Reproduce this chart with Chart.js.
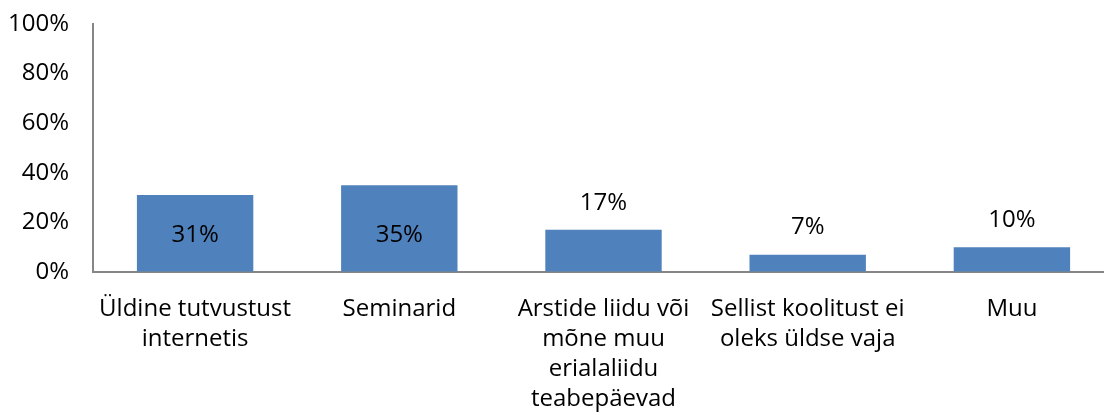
<!DOCTYPE html>
<html>
<head>
<meta charset="utf-8">
<script src="https://cdn.jsdelivr.net/npm/chart.js@4.4.0/dist/chart.umd.min.js"></script>
<style>
  html, body { margin: 0; padding: 0; background: #fff; }
  #wrap { width: 1104px; height: 415px; overflow: hidden; }
  #box { width: 1114px; height: 415px; }
</style>
</head>
<body>
<div id="wrap"><div id="box"><canvas id="koolitus"></canvas></div></div>
<script>
// data
const categories = [
    ['Üldine tutvustust', 'internetis'],
    ['Seminarid'],
    ['Arstide liidu või', 'mõne muu', 'erialaliidu', 'teabepäevad'],
    ['Sellist koolitust ei', 'oleks üldse vaja'],
    ['Muu']
];
const shares = [31, 35, 17, 7, 10];
const yTicks = [0, 20, 40, 60, 80, 100];

const fontFamily = "'Open Sans', sans-serif";
const fontSize = 24;
const axisGrey = '#868686';

// value labels: above short bars, inside the tall ones
const valueLabels = {
    id: 'valueLabels',
    afterDatasetsDraw(chart) {
        const ctx = chart.ctx;
        const yScale = chart.scales.y;
        const meta = chart.getDatasetMeta(0);
        ctx.save();
        ctx.font = fontSize + 'px ' + fontFamily;
        ctx.fillStyle = '#000';
        ctx.textAlign = 'center';
        ctx.textBaseline = 'middle';
        meta.data.forEach(function(bar, i) {
            const v = shares[i];
            let y;
            if (v > 25) {
                y = yScale.getPixelForValue(15);
            } else {
                y = bar.y - 27;
            }
            ctx.fillText(v + '%', bar.x, y);
        });
        ctx.restore();
    }
};

document.addEventListener('DOMContentLoaded', function() {
    const ctx = document.getElementById('koolitus').getContext('2d');
    new Chart(ctx, {
        type: 'bar',
        data: {
            labels: categories,
            datasets: [{
                data: shares,
                backgroundColor: '#4F81BD',
                borderWidth: 0,
                categoryPercentage: 1,
                barPercentage: 0.57
            }]
        },
        options: {
            responsive: true,
            maintainAspectRatio: false,
            animation: false,
            layout: { padding: { top: 24, right: 0, bottom: 0, left: 0 } },
            plugins: {
                legend: { display: false },
                tooltip: { enabled: false }
            },
            scales: {
                y: {
                    min: 0,
                    max: 100,
                    afterBuildTicks: function(s) {
                        s.ticks = yTicks.map(function(v) { return { value: v }; });
                    },
                    afterFit: function(s) {
                        s.width = 93;
                        s.paddingTop = 0;
                        s.paddingBottom = 0;
                    },
                    grid: { display: true, drawOnChartArea: false, drawTicks: false, color: 'transparent' },
                    border: { display: true, color: axisGrey, width: 2 },
                    ticks: {
                        padding: 24,
                        color: '#000',
                        font: { family: fontFamily, size: fontSize },
                        callback: function(v) { return v + '%'; }
                    }
                },
                x: {
                    afterFit: function(s) { s.height = 143; },
                    grid: { display: true, drawOnChartArea: false, drawTicks: false, color: 'transparent' },
                    border: { display: true, color: axisGrey, width: 2 },
                    ticks: {
                        padding: 22,
                        color: '#000',
                        maxRotation: 0,
                        autoSkip: false,
                        font: { family: fontFamily, size: fontSize, lineHeight: 1.25 }
                    }
                }
            }
        },
        plugins: [valueLabels]
    });
});
</script>
</body>
</html>
